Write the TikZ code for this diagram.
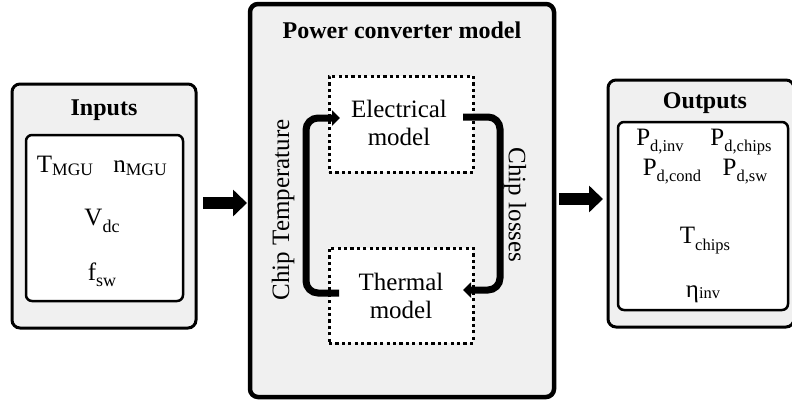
\documentclass[tikz,border=0pt]{standalone}
\usepackage{fontspec}
\setmainfont{Liberation Serif}
\usetikzlibrary{arrows.meta}
\definecolor{boxgray}{HTML}{F0F0F0}
\newcommand{\subs}[3][5pt]{\raisebox{-#1}{\fontsize{#2}{#2}\selectfont #3}}
\begin{document}
\begin{tikzpicture}[x=1pt,y=-1pt,
  outerbox/.style={draw, line width=3pt, rounded corners=8pt, fill=boxgray, inner sep=0pt, outer sep=0pt, anchor=north west},
  innerbox/.style={draw, line width=2.5pt, rounded corners=6pt, fill=white, inner sep=0pt, outer sep=0pt, anchor=north west},
  dotbox/.style={draw, line width=3pt, dash pattern=on 3.2pt off 3.2pt, fill=white, inner sep=0pt, outer sep=0pt, anchor=north west},
  loopar/.style={line width=7pt, rounded corners=12pt, -{Triangle[length=8pt,width=15pt]}},
  bigarrow/.style={line width=12pt, -{Triangle[length=14pt,width=26pt]}},
  txt/.style={font=\fontsize{25}{28}\selectfont, inner sep=0pt, anchor=base},
  ttl/.style={font=\fontsize{24}{28}\selectfont\bfseries, inner sep=0pt, anchor=base}]
\useasboundingbox (0,0) rectangle (792,405);

% Inputs
\node[outerbox, minimum width=184pt, minimum height=244pt] (inputs) at (12,84) {};
\node[innerbox, minimum width=157pt, minimum height=166pt] (inin) at (26,135) {};
\node[ttl] (inttl) at (104,115) {Inputs};
\node[txt] (tmgu) at (65,172) {T\subs[3pt]{17.5}{MGU}};
\node[txt] (nmgu) at (140,172) {n\subs[3pt]{17.5}{MGU}};
\node[txt] (vdc) at (102,225) {V\subs[7pt]{18}{dc}};
\node[txt] (fsw) at (102,280) {f\subs[6pt]{18}{sw}};

% Power converter model
\node[outerbox, line width=4.5pt, minimum width=304pt, minimum height=393pt] (conv) at (250,4) {};
\node[ttl] (convttl) at (402,38) {Power converter model};
\node[dotbox, minimum width=144pt, minimum height=96pt] (elec) at (329,76) {};
\node[dotbox, minimum width=144pt, minimum height=95pt] (therm) at (329,248) {};
\node[txt] (elec1) at (399,117) {Electrical};
\node[txt] (elec2) at (399,145) {model};
\node[txt] (therm1) at (401,290) {Thermal};
\node[txt] (therm2) at (401,318) {model};
\node[txt, anchor=center, rotate=90] (chipt) at (283,210) {Chip Temperature};
\node[txt, anchor=center, rotate=-90] (chipl) at (515,205) {Chip losses};
\draw[loopar] ([xshift=10pt]therm.west |- 0,293) -- (306,293) -- (306,118) -- ([xshift=11pt]elec.west |- 0,118);
\draw[loopar] ([xshift=-10pt]elec.east |- 0,117) -- (500,117) -- (500,290) -- ([xshift=-10pt]therm.east |- 0,290);

% Outputs
\node[outerbox, minimum width=186pt, minimum height=247pt] (outputs) at (608,80) {};
\node[innerbox, minimum width=170pt, minimum height=188pt] (outin) at (618,122) {};
\node[ttl] (outttl) at (705,108) {Outputs};
\node[txt] (pinv) at (660,145) {P\subs[6pt]{16.5}{d,inv}};
\node[txt] (pchips) at (741,145) {P\subs[6pt]{16.5}{d,chips}};
\node[txt] (pcond) at (672,175) {P\subs[6pt]{16.5}{d,cond}};
\node[txt] (psw) at (745,175) {P\subs[6pt]{16.5}{d,sw}};
\node[txt] (tchips) at (705,243) {T\subs[7pt]{16.5}{chips}};
\node[txt] (eta) at (703,297) {η\subs[1pt]{16.5}{inv}};

% big arrows
\draw[bigarrow, shorten <=7pt, shorten >=3pt] (inputs.east |- 0,203) -- (conv.west |- 0,203);
\draw[bigarrow, shorten <=5pt, shorten >=5pt] (conv.east |- 0,199) -- (outputs.west |- 0,199);
\end{tikzpicture}
\end{document}
